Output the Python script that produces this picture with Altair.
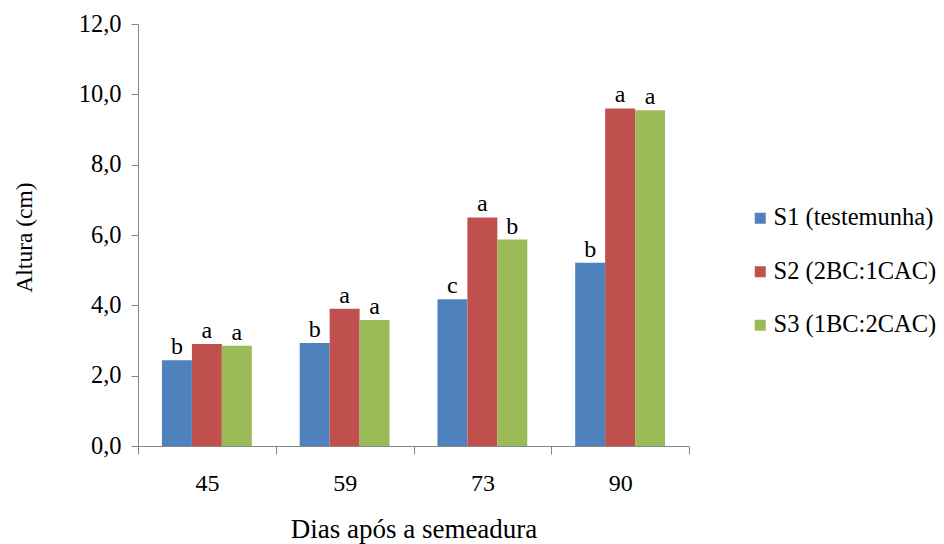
import altair as alt
import pandas as pd

dias = ["45", "59", "73", "90"]
series = ["S1 (testemunha)", "S2 (2BC:1CAC)", "S3 (1BC:2CAC)"]
s1 = [2.44, 2.93, 4.17, 5.21]
s2 = [2.90, 3.90, 6.50, 9.60]
s3 = [2.85, 3.58, 5.87, 9.55]
l1 = ["b", "b", "c", "b"]
l2 = ["a", "a", "a", "a"]
l3 = ["a", "a", "b", "a"]
colors = ["#4F81BD", "#C0504D", "#9BBB59"]
y_ticks = [0, 2, 4, 6, 8, 10, 12]

rows = []
for vals, labs, s in [(s1, l1, series[0]), (s2, l2, series[1]), (s3, l3, series[2])]:
    for d, v, l in zip(dias, vals, labs):
        rows.append({"Dia": d, "Serie": s, "Altura": v, "Letra": l})
df = pd.DataFrame(rows)

FONT = "Liberation Serif"

x_axis = alt.Axis(
    title="Dias após a semeadura",
    titleFontSize=27,
    titleFont=FONT,
    titleFontWeight="normal",
    titleColor="#000000",
    titleY=91,
    titleBaseline="alphabetic",
    labelAngle=0,
    labelFontSize=24,
    labelFont=FONT,
    labelColor="#000000",
    labelPadding=17,
    tickBand="extent",
    tickExtra=True,
    tickSize=8,
    tickColor="#868686",
    domainColor="#868686",
    grid=False,
)
y_axis = alt.Axis(
    title="Altura (cm)",
    titleFontSize=23.5,
    titleFont=FONT,
    titleFontWeight="normal",
    titleColor="#000000",
    titleX=-114,
    titleY=213,
    titleBaseline="middle",
    titleAngle=270,
    values=y_ticks,
    labelExpr="replace(format(datum.value, '.1f'), '.', ',')",
    labelFontSize=24.5,
    labelFont=FONT,
    labelColor="#000000",
    labelPadding=10,
    tickSize=7,
    tickColor="#868686",
    domainColor="#868686",
    grid=False,
)

x_enc = alt.X("Dia:N", sort=dias, scale=alt.Scale(paddingInner=0, paddingOuter=0), axis=x_axis)
xoff = alt.XOffset("Serie:N", sort=series, scale=alt.Scale(paddingOuter=0.8, paddingInner=0))
y_enc = alt.Y("Altura:Q", scale=alt.Scale(domain=[0, 12], nice=False, zero=True), axis=y_axis)

bars = alt.Chart(df).mark_bar().encode(
    x=x_enc,
    xOffset=xoff,
    y=y_enc,
    color=alt.Color(
        "Serie:N",
        sort=series,
        scale=alt.Scale(domain=series, range=colors),
        legend=alt.Legend(
            orient="none",
            legendX=610,
            legendY=182,
            symbolType="square",
            symbolSize=121,
            symbolStrokeWidth=0,
            labelFontSize=24.5,
            labelFont=FONT,
            labelColor="#000000",
            labelOffset=1,
            labelLimit=400,
            rowPadding=28.5,
            padding=0,
        ),
        title=None,
    ),
)

letters = alt.Chart(df).mark_text(
    font=FONT, fontSize=24, baseline="alphabetic", dy=-6, color="#000000"
).encode(
    x=x_enc,
    xOffset=xoff,
    y=y_enc,
    text="Letra:N",
)

chart = (
    alt.layer(bars, letters)
    .properties(
        width=551,
        height=422,
        autosize=alt.AutoSizeParams(type="none"),
        padding={"left": 130, "top": 16, "right": 247, "bottom": 98},
    )
    .configure(font=FONT, background="#FFFFFF")
    .configure_view(strokeWidth=0, stroke="transparent")
    .configure_axis(labelFont=FONT, titleFont=FONT, grid=False)
    .configure_legend(labelFont=FONT)
)

chart.save("out.html", embed_options={"renderer": "svg", "actions": False})
